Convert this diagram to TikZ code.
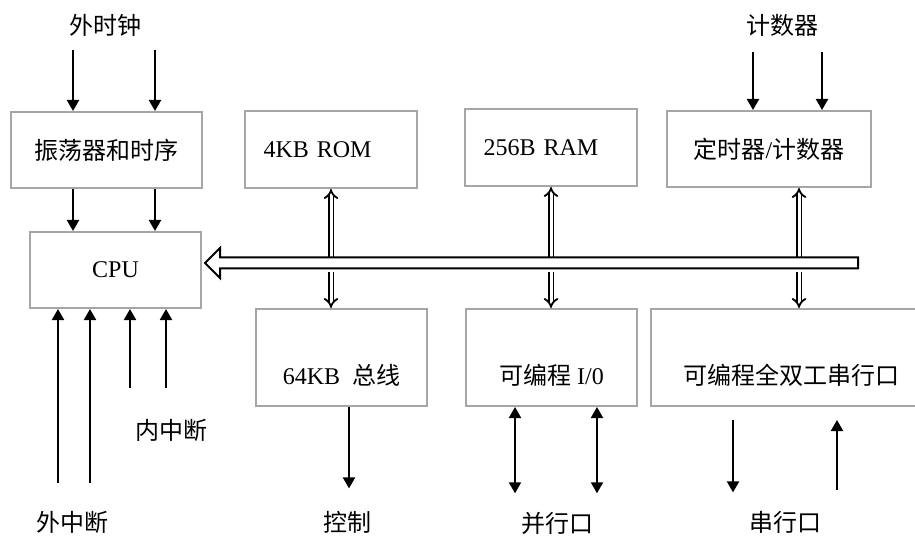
\documentclass[tikz,border=0pt]{standalone}
\usepackage{fontspec}
\setmainfont{Liberation Serif}
\newfontfamily\zhfont{Noto Sans CJK SC}
\newcommand{\zh}[1]{{\zhfont #1}}
\usetikzlibrary{arrows.meta,calc}
\colorlet{boxgray}{black!35}

\begin{document}
\begin{tikzpicture}[
  x=1pt, y=-1pt, font=\fontsize{24}{28}\selectfont,
  box/.style={draw=boxgray, line width=2pt, inner sep=0pt},
  membox/.style={box, minimum width=172pt, minimum height=77pt, text width=135pt, align=left},
  lowbox/.style={box, minimum height=97pt, text height=75pt, text depth=22pt},
  arr/.style={line width=2pt, -{Triangle[length=11pt,width=12pt]}},
  arrs/.style={line width=2pt, {Triangle[length=11pt,width=12pt]}-{Triangle[length=11pt,width=12pt]}},
  dbl/.style={double, double distance=3pt, line width=1.8pt, -{Implies}},
  bus/.style={draw, line width=2pt, fill=white, line join=miter}
]
  \useasboundingbox (0,0) rectangle (915,537);
  \clip (0,0) rectangle (915,537);

  \node[box, minimum width=191pt, minimum height=76pt] (osc) at (106.5,150) {\zh{振荡器和时序}};
  \node[box, minimum width=171pt, minimum height=76pt] (cpu) at (115.5,270) {CPU};
  \node[membox] (rom) at (331,149.5) {4KB ROM};
  \node[membox] (ram) at (551,147.5) {256B RAM};
  \node[box, minimum width=204pt, minimum height=76pt] (tmr) at (769,149) {\zh{定时器}/\zh{计数器}};
  \node[lowbox, minimum width=171pt] (bbus) at (341.5,357.5) {64KB\ \ \zh{总线}};
  \node[lowbox, minimum width=171pt] (pio) at (551.5,357.5) {\zh{可编程} I/0\hspace{12pt}};
  \node[lowbox, minimum width=280pt] (sio) at (791,357.5) {\zh{可编程全双工串行口}};

  \node (clk) at (105,25)  {\zh{外时钟}};
  \node (cnt) at (782,25)  {\zh{计数器}};
  \node (ext) at (72,522)  {\zh{外中断}};
  \node (int) at (171,430) {\zh{内中断}};
  \node (ctl) at (347,522) {\zh{控制}};
  \node (par) at (557,523) {\zh{并行口}};
  \node (ser) at (785,522) {\zh{串行口}};

  \draw[arr, shorten <=10pt] ([xshift=-33.5pt]osc.north |- clk.south) -- ([xshift=-33.5pt]osc.north);
  \draw[arr, shorten <=10pt] ([xshift=48.5pt]osc.north |- clk.south) -- ([xshift=48.5pt]osc.north);
  \draw[arr] ([xshift=-33.5pt]osc.south) -- ([xshift=-33.5pt]osc.south |- cpu.north);
  \draw[arr] ([xshift=48.5pt]osc.south) -- ([xshift=48.5pt]osc.south |- cpu.north);
  \draw[arr, shorten <=12pt] ([xshift=-16pt]tmr.north |- cnt.south) -- ([xshift=-16pt]tmr.north);
  \draw[arr, shorten <=12pt] ([xshift=53pt]tmr.north |- cnt.south) -- ([xshift=53pt]tmr.north);

  \draw[arr, shorten <=24pt] ([xshift=-57.5pt]cpu.south |- ext.north) -- ([xshift=-57.5pt]cpu.south);
  \draw[arr, shorten <=24pt] ([xshift=-25.5pt]cpu.south |- ext.north) -- ([xshift=-25.5pt]cpu.south);
  \draw[arr, shorten <=27pt] ([xshift=14.5pt]cpu.south |- int.north) -- ([xshift=14.5pt]cpu.south);
  \draw[arr, shorten <=27pt] ([xshift=50.5pt]cpu.south |- int.north) -- ([xshift=50.5pt]cpu.south);

  \coordinate (busL) at (205,263);
  \coordinate (busR) at (858,263);
  \coordinate (busT) at (858,258);
  \coordinate (busB) at (858,269);
  \draw[dbl] (rom.south |- busT) -- (rom.south);
  \draw[dbl] (ram.south |- busT) -- (ram.south);
  \draw[dbl] ([xshift=30pt]tmr.south |- busT) -- ([xshift=30pt]tmr.south);
  \draw[dbl, shorten <=3pt] (rom.south |- busB) -- (rom.south |- bbus.north);
  \draw[dbl, shorten <=3pt] (ram.south |- busB) -- (ram.south |- pio.north);
  \draw[dbl, shorten <=3pt] ([xshift=30pt]tmr.south |- busB) -- ([xshift=30pt]tmr.south |- sio.north);
  \draw[bus] (busL) -- ++(15,-15) -- ++(0,9.5) -- ($(busR)+(0,-5.5)$) -- ($(busR)+(0,5.5)$)
    -- ($(busL)+(15,5.5)$) -- ++(0,9.5) -- cycle;

  \draw[arr, shorten >=19pt] ([xshift=7.5pt]bbus.south) -- ([xshift=7.5pt]bbus.south |- ctl.north);
  \draw[arrs, shorten >=15pt] ([xshift=-36.5pt]pio.south) -- ([xshift=-36.5pt]pio.south |- par.north);
  \draw[arrs, shorten >=15pt] ([xshift=45.5pt]pio.south) -- ([xshift=45.5pt]pio.south |- par.north);
  \draw[arr, shorten <=13pt, shorten >=15pt] ([xshift=-58pt]sio.south) -- ([xshift=-58pt]sio.south |- ser.north);
  \draw[arr, shorten <=17pt, shorten >=13pt] ([xshift=46pt]sio.south |- ser.north) -- ([xshift=46pt]sio.south);
\end{tikzpicture}
\end{document}
